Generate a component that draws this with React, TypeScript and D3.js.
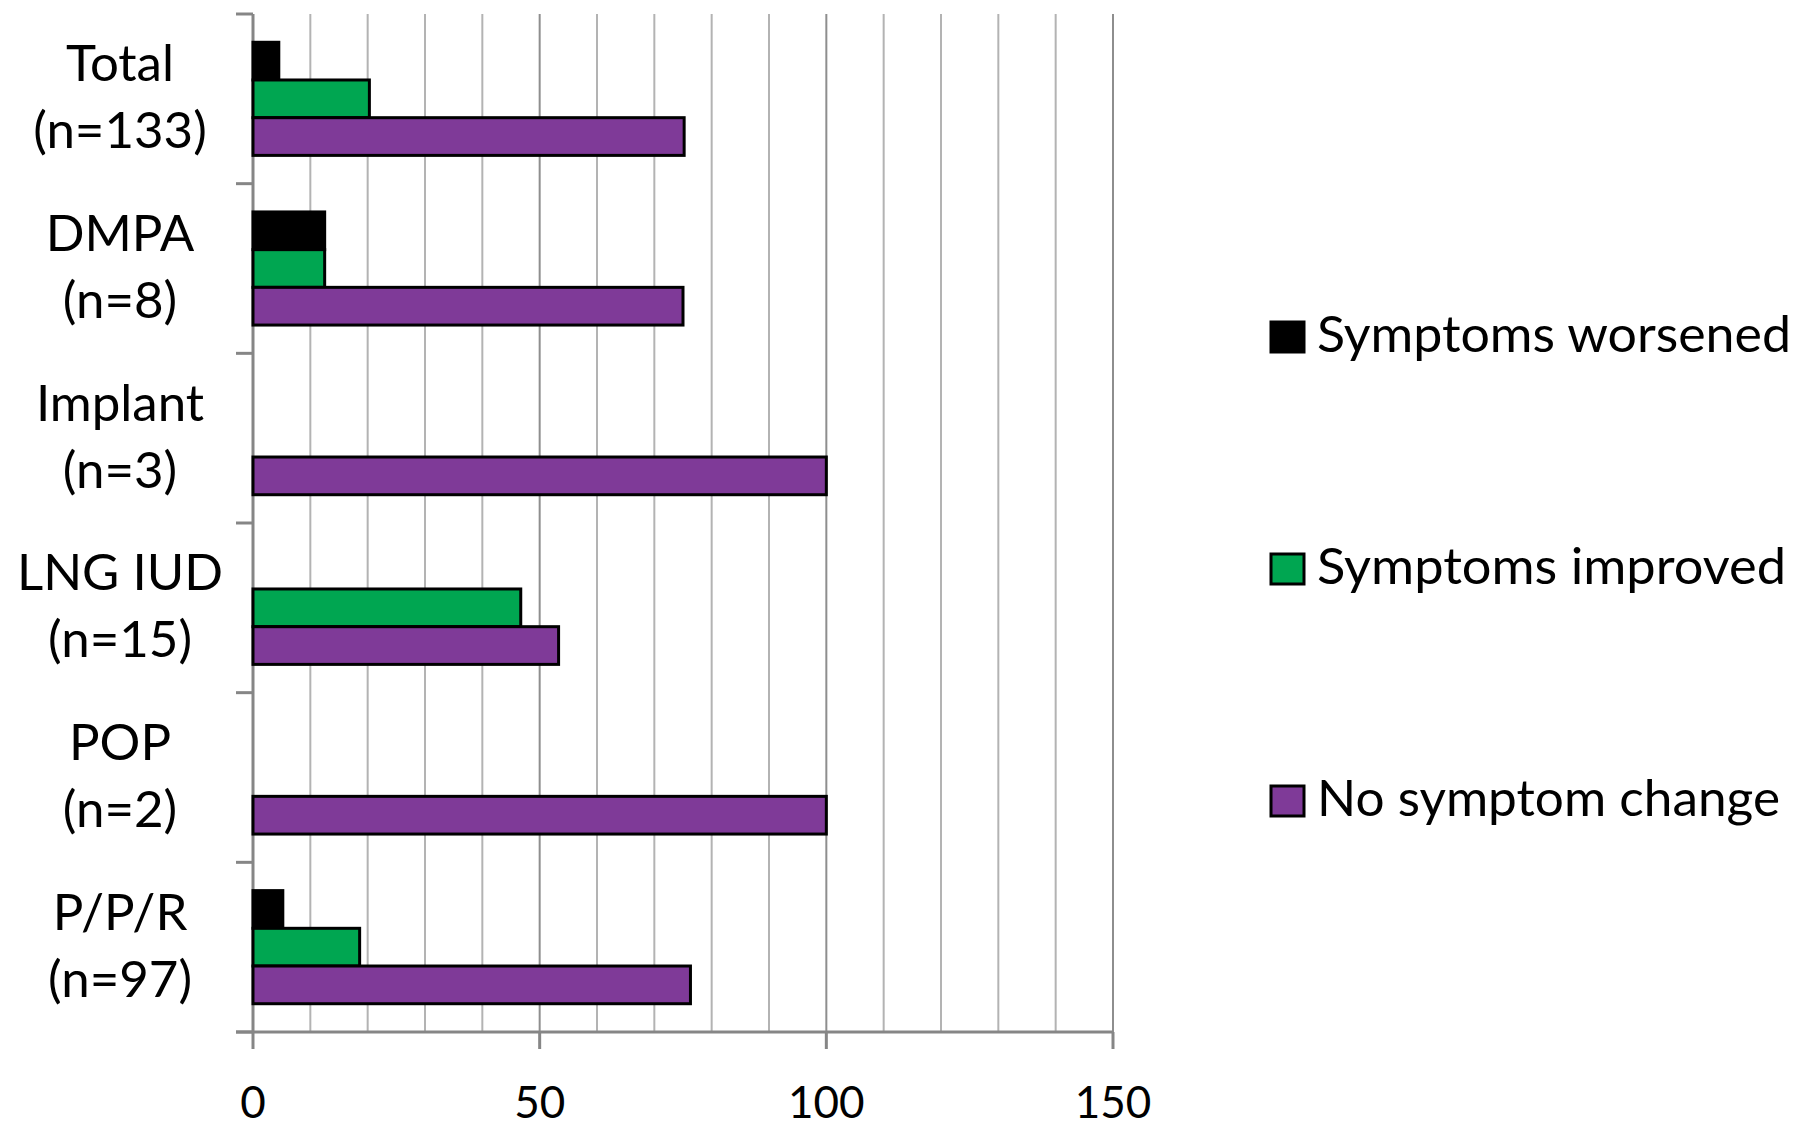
import React from "react";
import * as d3 from "d3";

const categories = ["Total", "DMPA", "Implant", "LNG IUD", "POP", "P/P/R"];
const categoryCounts = ["(n=133)", "(n=8)", "(n=3)", "(n=15)", "(n=2)", "(n=97)"];
const seriesNames = ["Symptoms worsened", "Symptoms improved", "No symptom change"];
const seriesColors = ["#000000", "#00a651", "#7f3a98"];
const worsened = [4.5, 12.5, 0, 0, 0, 5.2];
const improved = [20.3, 12.5, 0, 46.7, 0, 18.6];
const noChange = [75.2, 75, 100, 53.3, 100, 76.3];
const xTicks = [0, 50, 100, 150];
const gridValues = d3.range(0, 151, 10);

const W = 1800;
const H = 1135;
const FONT = "Lato, 'Open Sans', sans-serif";
const legendWidths = [474, 469, 463];

export default function App() {
  const x = d3.scaleLinear().domain([0, 150]).range([253, 1113]);
  const y0 = d3.scaleBand<string>().domain(categories).range([14, 1032]).paddingInner(0).paddingOuter(0);
  const y1 = d3.scaleBand<string>().domain(seriesNames).range([0, y0.bandwidth()]).paddingInner(0).paddingOuter(0.75);
  const seriesValues = [worsened, improved, noChange];
  const boundaries = categories.map((c) => y0(c)!).concat([y0.range()[1]]);
  const legendY = d3.scalePoint<string>().domain(seriesNames).range([337, 801]);

  return (
    <svg width={W} height={H} style={{ position: "absolute", left: 0, top: 0, background: "#fff" }}>
      <rect x={0} y={0} width={W} height={H} fill="#fff" />
      {gridValues.map((v) => (
        <line key={"g" + v} x1={x(v)} x2={x(v)} y1={14} y2={1032}
          stroke={v % 50 === 0 ? "#8e8e8e" : "#b3b3b3"} strokeWidth={2} />
      ))}
      <line x1={x(0)} x2={x(0)} y1={14} y2={1032} stroke="#868686" strokeWidth={3} />
      {boundaries.map((b, i) => (
        <line key={"yt" + i} x1={236} x2={x(0)} y1={b} y2={b} stroke="#868686" strokeWidth={3} />
      ))}
      <line x1={236} x2={x(150)} y1={1032} y2={1032} stroke="#868686" strokeWidth={3} />
      {xTicks.map((t) => (
        <g key={"xt" + t}>
          <line x1={x(t)} x2={x(t)} y1={1032} y2={1049} stroke="#868686" strokeWidth={3} />
          <text x={x(t)} y={1118} textAnchor="middle" fontFamily={FONT} fontSize={44} fill="#000">{t}</text>
        </g>
      ))}
      {categories.map((c, ci) => (
        <g key={"c" + c} transform={`translate(0,${y0(c)})`}>
          {seriesNames.map((s, si) => {
            const v = seriesValues[si][ci];
            if (!v) return null;
            return (
              <rect key={s} x={x(0)} y={y1(s)!} width={x(v) - x(0)} height={y1.bandwidth()}
                fill={seriesColors[si]} stroke="#000" strokeWidth={3} />
            );
          })}
        </g>
      ))}
      {categories.map((c, ci) => {
        const cy = y0(c)! + y0.bandwidth() / 2;
        return (
          <g key={"l" + c}>
            <text x={120} y={cy - 17.5} textAnchor="middle" fontFamily={FONT} fontSize={51} fill="#000">{c}</text>
            <text x={120} y={cy + 49.5} textAnchor="middle" fontFamily={FONT} fontSize={51} fill="#000">{categoryCounts[ci]}</text>
          </g>
        );
      })}
      {seriesNames.map((s, si) => {
        const ly = legendY(s)!;
        return (
          <g key={"lg" + s}>
            <rect x={1271} y={ly - 15} width={33} height={30} fill={seriesColors[si]} stroke="#000" strokeWidth={3} />
            <text x={1317} y={ly + 15} fontFamily={FONT} fontSize={50} fill="#000"
              textLength={legendWidths[si]} lengthAdjust="spacingAndGlyphs">{s}</text>
          </g>
        );
      })}
    </svg>
  );
}
